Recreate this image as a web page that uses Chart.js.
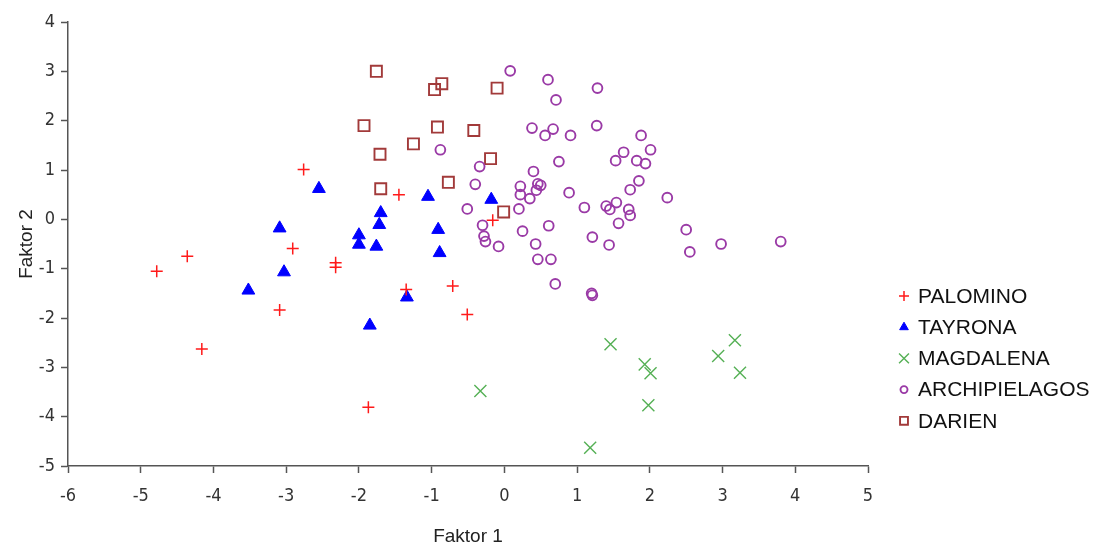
<!DOCTYPE html>
<html>
<head>
<meta charset="utf-8">
<script src="https://cdn.jsdelivr.net/npm/chart.js@4/dist/chart.umd.min.js"></script>
<style>
  html, body { margin: 0; padding: 0; background: #fff; }
  #wrap { width: 1119px; height: 548px; }
</style>
</head>
<body>
<div id="wrap"><canvas id="myChart" width="1119" height="548"></canvas></div>
<script>
// series values: [Faktor 1, Faktor 2]
const palomino = [[-4.78,-1.05],[-4.36,-0.75],[-4.16,-2.63],[-3.09,-1.84],[-2.91,-0.59],[-2.76,1.01],
  [-2.32,-0.88],[-2.32,-0.97],[-1.87,-3.81],[-1.45,0.50],[-1.35,-1.42],[-0.71,-1.35],[-0.51,-1.93],[-0.16,-0.02]];
const tayrona = [[-2.55,0.62],[-3.09,-0.18],[-3.03,-1.07],[-3.52,-1.44],[-2.00,-0.32],[-2.00,-0.51],
  [-1.70,0.13],[-1.72,-0.11],[-1.76,-0.55],[-1.05,0.46],[-0.91,-0.21],[-0.89,-0.68],[-0.18,0.40],[-1.34,-1.58],[-1.85,-2.15]];
const magdalena = [[-0.33,-3.48],[1.18,-4.63],[1.46,-2.53],[1.93,-2.94],[2.01,-3.12],[1.98,-3.77],
  [2.94,-2.77],[3.17,-2.45],[3.24,-3.11]];
const archipielagos = [[0.08,3.01],[0.60,2.83],[1.28,2.66],[0.71,2.42],[0.38,1.85],[0.67,1.83],[0.56,1.70],
  [0.91,1.70],[1.27,1.90],[1.88,1.70],[-0.88,1.41],[2.01,1.41],[1.64,1.36],[1.53,1.19],[1.82,1.19],
  [1.94,1.13],[0.75,1.17],[-0.34,1.07],[0.40,0.97],[-0.40,0.71],[0.22,0.67],[0.46,0.72],[0.50,0.69],
  [0.44,0.59],[0.22,0.50],[0.35,0.42],[0.89,0.54],[1.85,0.78],[1.73,0.60],[2.24,0.44],[1.54,0.34],
  [1.40,0.27],[1.45,0.20],[1.71,0.20],[1.73,0.08],[1.10,0.24],[-0.51,0.21],[0.20,0.21],[1.57,-0.08],
  [2.50,-0.21],[-0.30,-0.12],[-0.28,-0.34],[-0.26,-0.45],[-0.08,-0.55],[0.25,-0.24],[0.61,-0.13],
  [0.43,-0.50],[0.46,-0.81],[0.64,-0.81],[0.70,-1.31],[1.21,-0.36],[1.44,-0.52],[2.55,-0.66],
  [2.98,-0.50],[3.80,-0.45],[1.20,-1.50],[1.21,-1.54]];
const darien = [[-1.76,3.00],[-0.96,2.63],[-0.86,2.75],[-0.10,2.66],[-1.93,1.90],[-0.92,1.87],[-0.42,1.80],
  [-1.25,1.53],[-1.71,1.32],[-0.19,1.23],[-0.77,0.75],[-1.70,0.62],[-0.01,0.15]];

const xRange = [-6, 5];
const yRange = [-5, 4];

function pts(arr) {
  return arr.map(p => ({x: p[0], y: p[1]}));
}

// legend drawn at the right side, like the original
const sideLegend = {
  id: 'sideLegend',
  afterDraw(chart) {
    const ctx = chart.ctx;
    ctx.save();
    ctx.font = '21px "Liberation Sans", Arial, sans-serif';
    ctx.textBaseline = 'middle';
    chart.data.datasets.forEach((ds, i) => {
      const y = 296 + i * 31.2;
      ctx.fillStyle = ds.backgroundColor;
      ctx.strokeStyle = ds.borderColor;
      ctx.lineWidth = ds.borderWidth;
      Chart.helpers.drawPoint(ctx, {pointStyle: ds.pointStyle, radius: ds.legendRadius, borderWidth: ds.borderWidth, rotation: 0}, 904, y);
      ctx.fillStyle = '#111';
      ctx.fillText(ds.label, 918, y + 1);
    });
    ctx.restore();
  }
};

const tickFont = {family: '"Liberation Sans Narrow", "DejaVu Sans Condensed", "Arial Narrow", sans-serif', size: 18};
const titleFont = {family: '"Liberation Sans", Arial, sans-serif', size: 19};

new Chart(document.getElementById('myChart'), {
  type: 'scatter',
  data: {
    datasets: [{
      label: 'PALOMINO',
      data: pts(palomino),
      pointStyle: 'cross',
      pointRadius: 6, legendRadius: 5,
      borderColor: '#ff1a1a', backgroundColor: '#ff1a1a', borderWidth: 1.5
    }, {
      label: 'TAYRONA',
      data: pts(tayrona),
      pointStyle: 'triangle',
      pointRadius: 7.4, legendRadius: 5,
      borderColor: '#0000ff', backgroundColor: '#0000ff', borderWidth: 1
    }, {
      label: 'MAGDALENA',
      data: pts(magdalena),
      pointStyle: 'crossRot',
      pointRadius: 8.5, legendRadius: 7,
      borderColor: '#55b055', backgroundColor: '#55b055', borderWidth: 1.4
    }, {
      label: 'ARCHIPIELAGOS',
      data: pts(archipielagos),
      pointStyle: 'circle',
      pointRadius: 4.9, legendRadius: 3.5,
      borderColor: '#9a3aa6', backgroundColor: 'rgba(0,0,0,0)', borderWidth: 1.9
    }, {
      label: 'DARIEN',
      data: pts(darien),
      pointStyle: 'rect',
      pointRadius: 7.8, legendRadius: 5.6,
      borderColor: '#a23a3a', backgroundColor: 'rgba(0,0,0,0)', borderWidth: 1.9
    }]
  },
  options: {
    responsive: false,
    animation: false,
    layout: {padding: {top: 22, right: 251, left: 0, bottom: 0}},
    plugins: {
      legend: {display: false},
      tooltip: {enabled: false}
    },
    scales: {
      x: {
        type: 'linear',
        min: xRange[0], max: xRange[1],
        afterFit: function(scale) { scale.height = 82; },
        ticks: {stepSize: 1, color: '#333', font: tickFont, padding: 13},
        grid: {drawOnChartArea: false, drawTicks: true, tickLength: 7, tickColor: '#555', tickWidth: 1.5},
        border: {display: true, color: '#555', width: 1.5},
        title: {display: true, text: 'Faktor 1', color: '#222', font: titleFont, padding: {top: 0, bottom: 0}}
      },
      y: {
        type: 'linear',
        min: yRange[0], max: yRange[1],
        afterFit: function(scale) { scale.width = 68; },
        ticks: {stepSize: 1, color: '#333', font: tickFont, padding: 6},
        grid: {drawOnChartArea: false, drawTicks: true, tickLength: 7, tickColor: '#555', tickWidth: 1.5},
        border: {display: true, color: '#555', width: 1.5},
        title: {display: true, text: 'Faktor 2', color: '#222', font: titleFont, padding: {top: 15, bottom: 0}}
      }
    }
  },
  plugins: [sideLegend]
});
</script>
</body>
</html>
